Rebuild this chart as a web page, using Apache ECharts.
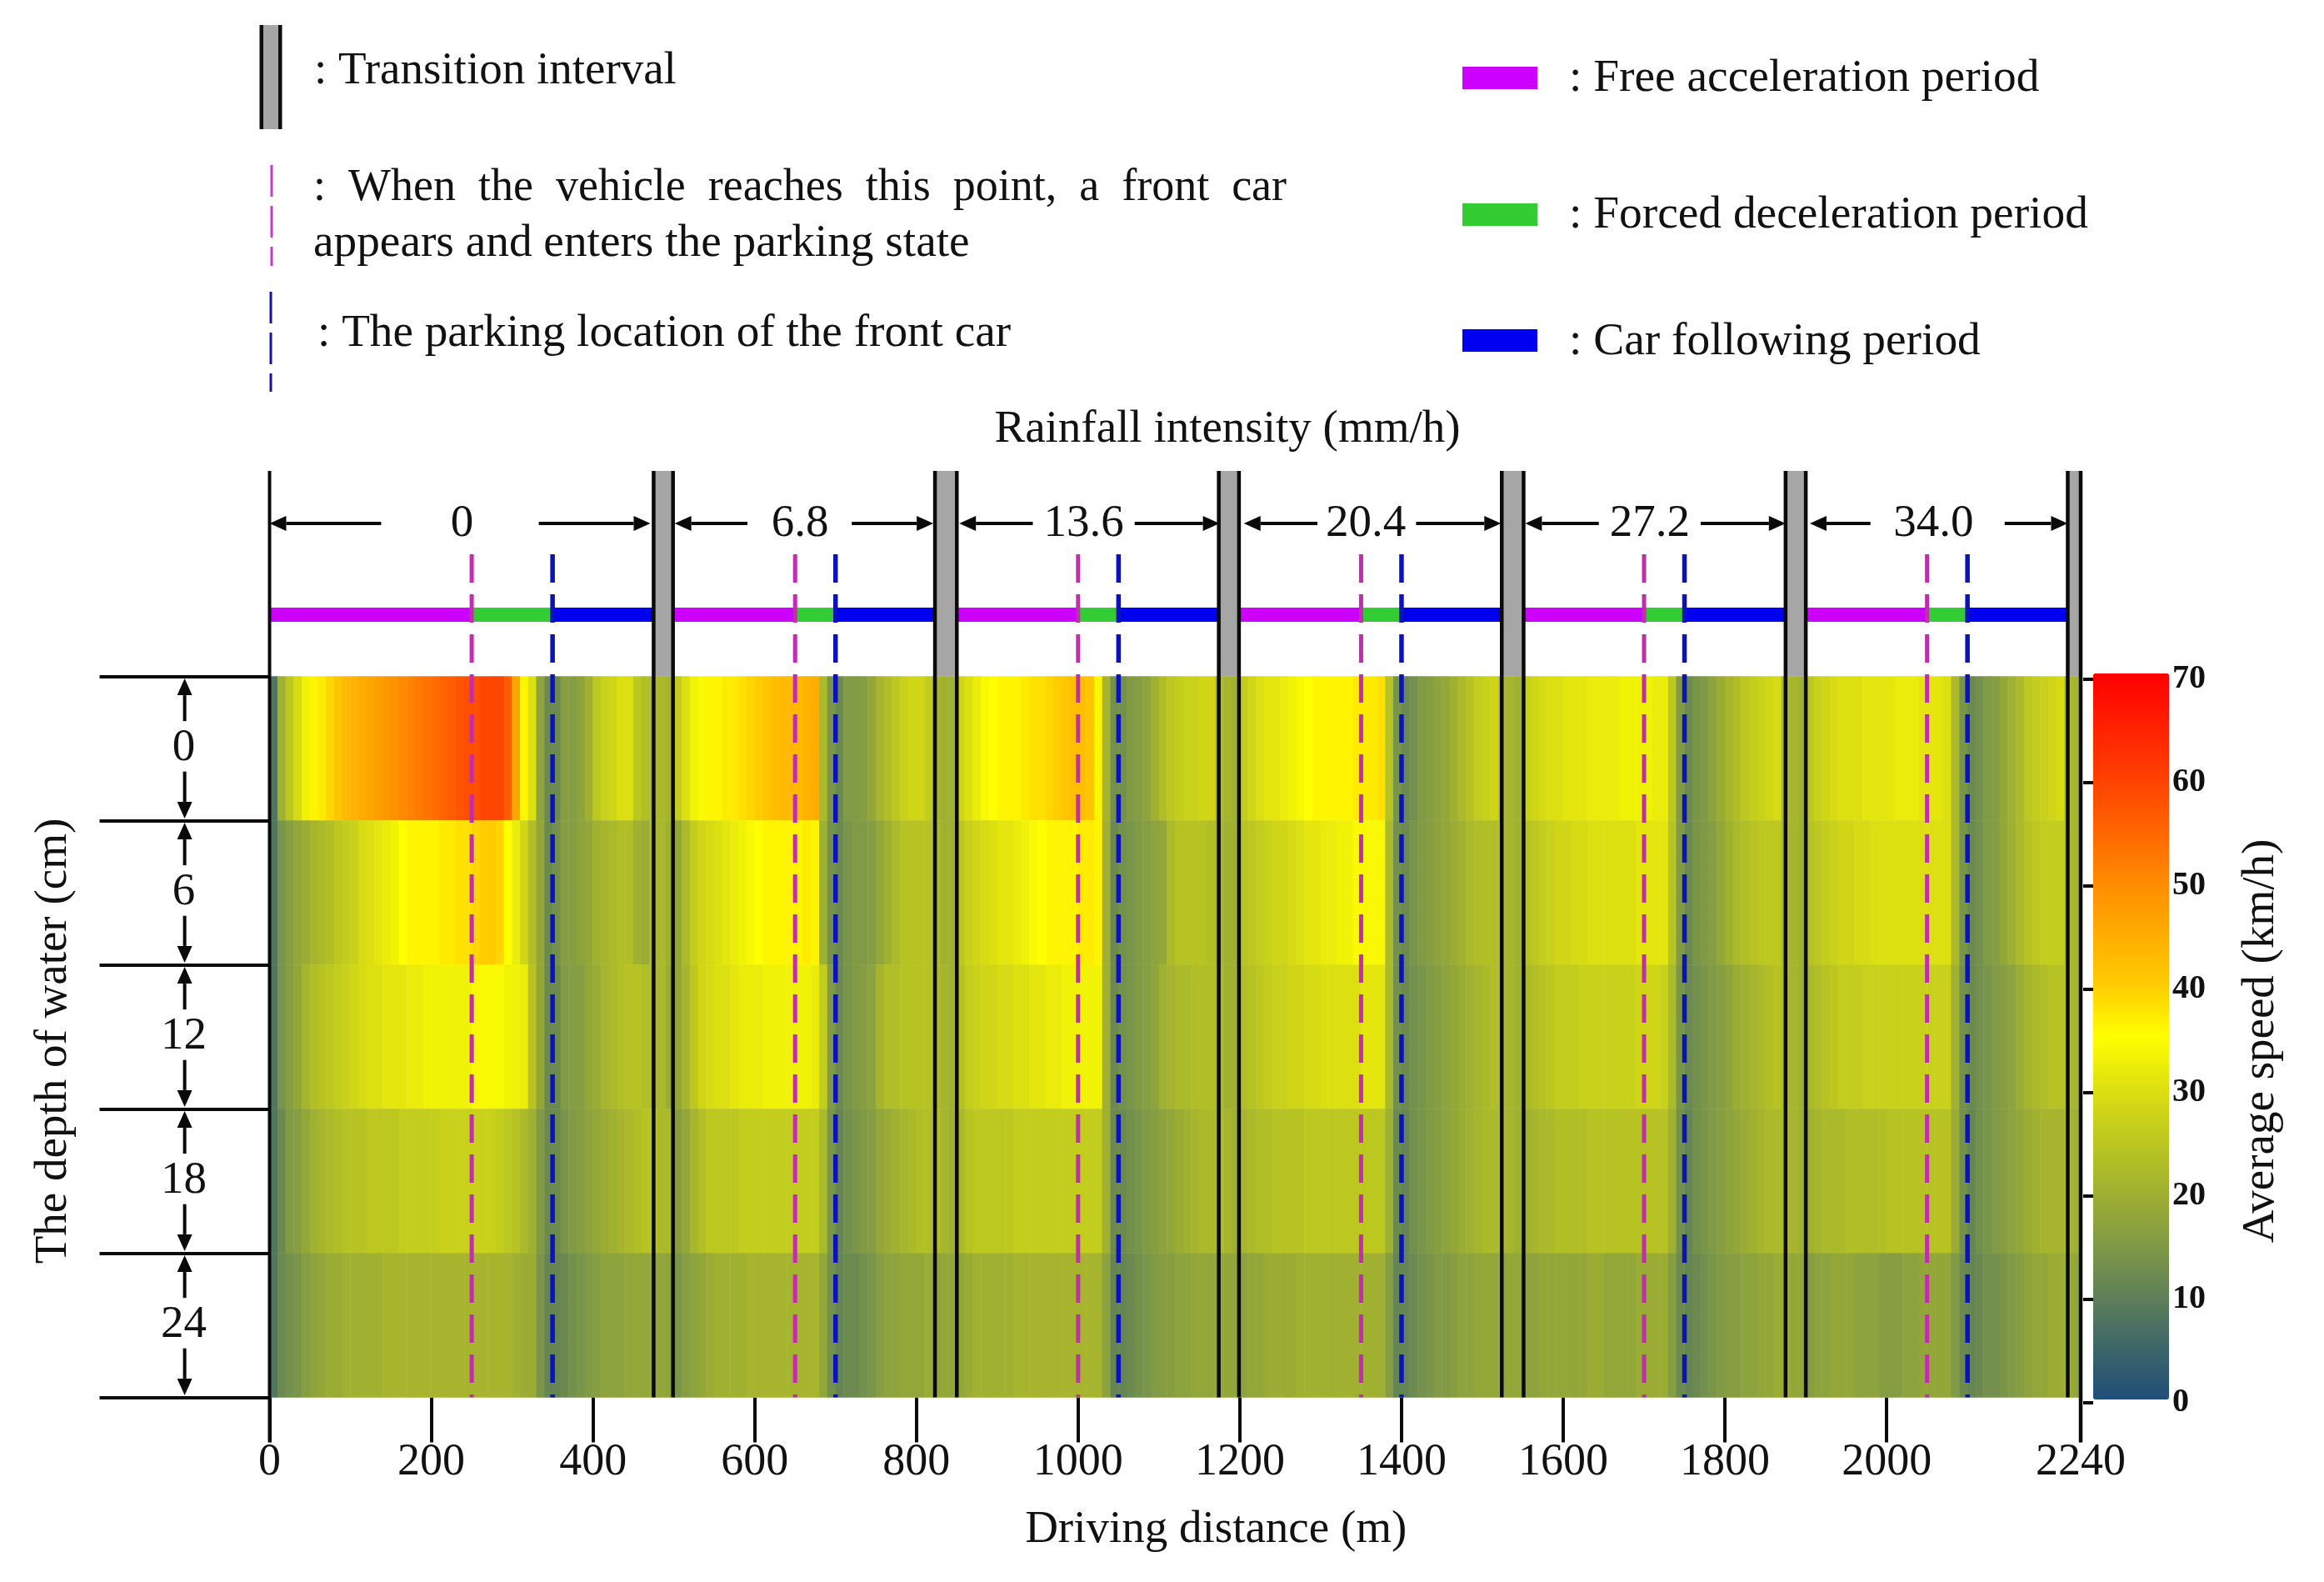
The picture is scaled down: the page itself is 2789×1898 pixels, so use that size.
<!DOCTYPE html>
<html><head><meta charset="utf-8">
<style>html,body{margin:0;padding:0;background:#fff}#c{width:2789px;height:1898px}</style>
<script src="https://cdn.jsdelivr.net/npm/echarts@6/dist/echarts.min.js"></script>
</head><body><div id="c"></div>
<script>
// ---- Data ----
const depthLabels = ['0','6','12','18','24'];
const binSize = 10; // metres per column
const depth0 = [8,20,25,29,33,36,37,39,41,43,44,45,46,47,48,49,50,51,52,53,54,55,56,57,58,58,59,59,59,56,46,36,30,17,12,12,16,16,17,20,25,27,28,30,30,25,23,22,22,21,
26,30,33,34,36,36,37,37,38,39,40,41,42,43,43,43,44,45,22,14,12,15,15,16,18,21,23,25,27,28,28,26,21,20,20,
28,30,32,34,35,36,36,36,37,38,38,39,40,41,42,42,41,36,21,13,13,15,16,17,20,23,25,26,27,27,28,28,22,21,20,
26,28,30,31,31,32,33,34,35,36,36,36,36,36,37,37,37,38,24,14,12,13,15,16,17,18,20,22,24,26,27,28,22,21,20,
27,28,29,30,30,31,31,31,32,32,32,32,33,33,33,33,32,32,25,15,12,14,15,17,19,21,23,25,26,27,28,29,22,21,20,
25,27,28,29,30,30,30,31,31,31,31,32,32,32,31,31,31,30,22,14,12,13,15,16,18,20,22,25,26,27,28,29,22,21];
const depth6 = [8,14,16,18,19,21,22,23,25,26,27,29,30,31,32,33,35,36,36,36,36,37,37,38,38,39,40,40,39,35,32,28,23,18,12,13,16,16,17,18,20,21,22,23,23,20,19,22,22,20,
18,22,26,28,29,30,31,32,33,34,35,36,36,36,36,36,37,36,20,13,12,14,15,15,16,18,20,22,24,24,24,24,22,20,20,
25,27,28,29,30,31,31,32,33,34,35,36,36,36,36,37,37,36,20,12,13,14,15,16,17,18,22,24,24,24,24,23,21,20,20,
24,25,26,27,28,28,29,30,31,31,32,32,33,33,34,34,34,34,22,13,12,14,15,16,17,18,19,20,22,23,23,23,22,21,20,
24,25,26,27,28,28,29,29,30,30,30,30,30,30,31,31,31,31,24,15,12,14,15,16,18,20,22,23,24,25,25,25,22,21,20,
24,25,26,27,28,28,29,29,30,30,30,30,30,30,30,30,30,30,22,14,12,13,15,16,18,20,22,24,25,26,26,26,22,21];
const depth12 = [8,14,16,18,21,23,24,25,26,27,28,29,30,30,31,31,31,32,32,33,33,33,33,33,33,34,34,34,34,33,33,32,24,18,12,12,15,16,16,18,19,21,22,23,24,24,23,22,22,19,
18,21,25,28,29,30,30,31,32,32,32,33,33,33,33,33,33,32,26,15,12,14,15,16,17,21,23,23,24,24,24,24,22,21,20,
24,26,27,28,28,29,29,30,30,31,31,32,32,33,33,33,33,33,20,12,13,14,15,16,17,20,21,22,22,23,23,23,22,20,20,
23,24,25,26,27,27,28,28,29,29,30,30,30,30,30,31,31,31,22,13,12,13,14,15,16,17,18,19,20,21,22,23,22,21,20,
22,23,24,25,26,26,26,27,27,27,27,27,27,27,28,28,28,27,22,14,12,13,14,15,16,17,19,20,21,22,23,24,22,21,20,
22,23,24,25,26,26,26,27,27,27,27,27,27,27,27,27,27,27,20,13,12,13,14,15,16,17,19,21,22,23,24,24,22,21];
const depth18 = [8,12,15,16,18,20,21,22,23,24,24,24,25,25,25,25,26,26,26,26,26,27,27,27,27,27,27,27,26,25,24,22,20,15,12,12,14,15,16,17,18,19,20,21,22,23,24,24,22,22,
16,18,21,23,25,25,25,25,26,26,26,26,26,26,26,26,26,26,22,14,11,13,14,15,16,18,19,20,21,22,23,23,23,21,20,
22,24,25,25,25,25,25,26,26,26,26,26,26,26,26,26,26,26,20,12,12,13,14,15,16,17,18,19,20,21,22,22,22,21,20,
21,22,23,23,24,24,24,24,25,25,25,25,25,25,25,25,25,25,20,12,11,13,14,15,16,17,18,19,20,21,22,22,22,21,20,
20,21,22,22,23,23,23,23,24,24,24,24,24,24,24,24,24,24,20,13,11,13,14,15,16,17,18,19,20,21,22,22,22,21,20,
20,21,22,22,22,23,23,23,23,23,24,24,24,24,24,24,24,24,19,13,11,13,14,15,16,17,18,19,20,21,21,21,21,20];
const depth24 = [8,12,13,14,16,17,18,19,19,20,20,20,20,20,21,21,21,21,21,21,21,21,21,21,21,21,21,21,21,21,20,19,19,14,11,11,12,13,14,15,16,17,17,17,18,18,18,18,18,17,
14,16,17,18,19,20,20,20,20,21,21,21,21,21,21,21,21,21,18,13,11,12,12,13,14,16,17,17,18,18,18,19,18,18,18,
18,19,20,20,20,20,20,21,21,21,21,21,21,21,21,21,21,21,17,11,11,12,13,14,15,16,16,17,17,18,18,18,18,18,18,
17,18,18,19,19,19,19,20,20,20,20,20,20,20,20,20,20,20,16,11,11,12,13,14,15,15,16,17,17,18,18,18,18,18,18,
17,17,18,18,18,18,18,18,19,19,18,18,18,18,19,19,19,19,16,12,11,12,13,14,15,16,16,17,17,18,18,19,19,18,18,
16,17,17,18,18,18,17,17,17,16,16,16,17,17,18,18,18,18,15,12,11,12,13,13,14,15,16,17,18,18,19,19,19,18];
const xTickValues = [0,200,400,600,800,1000,1200,1400,1600,1800,2000,2240];
const speedTicks = [0,10,20,30,40,50,60,70];
const rainfallLabels = ['0','6.8','13.6','20.4','27.2','34.0'];
const rainfallLabelAt = [238,656,1007,1356,1707,2058];
const rainArrowsLeft = [[138,0],[591,501],[944,853],[1296,1205],[1644,1553],[1980,1905]];
const rainArrowsRight = [[333,471],[720,821],[1070,1175],[1418,1523],[1770,1875],[2146,2224]];
const segmentStart = [0,500,850,1200,1550,1900];
const transitionStart = [475,823,1174,1524,1875,2224];
const transitionEnd = [499,850,1199,1551,1900,2240];
const frontCarAppears = [250,650,1000,1350,1700,2050];
const frontCarParks = [350,700,1050,1400,1750,2100];

// ---- Styles ----
const SERIF = '"Liberation Serif", serif';
const BLACK = '#0a0a0a';
const rows = [depth0,depth6,depth12,depth18,depth24];
const categories = depth0.map((_, i) => String(i * binSize));
const heat = [];
rows.forEach((r, y) => r.forEach((v, x) => heat.push([x, y, v])));
const ramp = ['#1f4e79','#3d6668','#5f8058','#809a45','#a0b030','#bcc820','#dde010','#ffff00','#ffcc00','#ffac00','#ff8a00','#ff6400','#ff3f00','#ff2000','#ff0000'];

// band positions, in row units from the top of the heat map (1 row = 173 px)
const BAND = { top:-1.425, dashTop:-0.847, rainY:-1.06, barTop:-0.477, barBottom:-0.379, heatTop:0, bottom:5, xTickEnd:5.31 };

function rectSeries(data, fill, z){
  return {type:'custom', xAxisIndex:1, yAxisIndex:1, z, silent:true, clip:false, data,
    renderItem(p, api){
      const a = api.coord([api.value(0), api.value(2)]), b = api.coord([api.value(1), api.value(3)]);
      return {type:'rect', shape:{x:a[0], y:a[1], width:b[0]-a[0], height:b[1]-a[1]}, style:{fill}};
    }};
}
function lineSeries(data, stroke, width, dash, z){
  return {type:'custom', xAxisIndex:1, yAxisIndex:1, z, silent:true, clip:false, data,
    renderItem(p, api){
      const a = api.coord([api.value(0), api.value(1)]), b = api.coord([api.value(0), api.value(2)]);
      return {type:'line', shape:{x1:a[0], y1:a[1], x2:b[0], y2:b[1]}, style:{stroke, lineWidth:width, lineDash:dash||null}};
    }};
}
function arrowSeries(data, z){
  return {type:'custom', xAxisIndex:1, yAxisIndex:1, z, silent:true, clip:false, data,
    renderItem(p, api){
      const a = api.coord([api.value(0), api.value(1)]), b = api.coord([api.value(2), api.value(3)]);
      const L = Math.hypot(b[0]-a[0], b[1]-a[1]) || 1, ux=(b[0]-a[0])/L, uy=(b[1]-a[1])/L, hl=20, hw=9;
      const bx=b[0]-ux*hl, by=b[1]-uy*hl;
      return {type:'group', children:[
        {type:'line', shape:{x1:a[0], y1:a[1], x2:bx, y2:by}, style:{stroke:BLACK, lineWidth:4}},
        {type:'polygon', shape:{points:[[b[0],b[1]],[bx-uy*hw,by+ux*hw],[bx+uy*hw,by-ux*hw]]}, style:{fill:BLACK}}
      ]};
    }};
}

const depthArrows = [];
depthLabels.forEach((_, r) => { depthArrows.push([-105, r+0.31, -105, r+0.015]); depthArrows.push([-105, r+0.66, -105, r+0.985]); });
const rainArrows = [];
rainArrowsLeft.concat(rainArrowsRight).forEach(s => rainArrows.push([s[0], BAND.rainY, s[1], BAND.rainY]));

const txt = (text, x, y, size) => ({type:'text', x, y, z:10, silent:true,
  style:{text, x:0, y:0, font:`${size||55}px ${SERIF}`, fill:'#111', textVerticalAlign:'middle'}});
const box = (x, y, w, h, fill) => ({type:'rect', z:10, silent:true, shape:{x, y, width:w, height:h}, style:{fill}});
const vdash = (x, y1, y2, stroke) => ({type:'line', z:10, silent:true, shape:{x1:x, y1, x2:x, y2}, style:{stroke, lineWidth:3, lineDash:[38,11]}});

const chart = echarts.init(document.getElementById('c'), null, {renderer:'canvas'});
chart.setOption({
  backgroundColor:'#fff', animation:false,
  textStyle:{fontFamily:SERIF, color:'#111'},
  title:{text:'Rainfall intensity (mm/h)', left:1473, top:488, textAlign:'center', padding:0,
    textStyle:{fontFamily:SERIF, fontWeight:'normal', fontSize:55, color:'#111'}},
  grid:[
    {left:323.5, top:811.5, width:2173.5, height:865},
    {left:2512, top:815, width:80, height:868}
  ],
  xAxis:[
    {type:'category', gridIndex:0, data:categories, show:false},
    {type:'value', gridIndex:0, min:0, max:2240, position:'bottom', splitLine:{show:false}, axisLine:{show:false},
      axisTick:{show:true, length:54, lineStyle:{color:BLACK, width:4}, customValues:xTickValues},
      axisLabel:{margin:51, fontSize:54, color:'#111', fontFamily:SERIF, customValues:xTickValues, formatter:v=>String(v), hideOverlap:false, showMinLabel:true, showMaxLabel:true},
      name:'Driving distance (m)', nameLocation:'middle', nameGap:132, nameMoveOverlap:false,
      nameTextStyle:{fontSize:55, color:'#111', fontFamily:SERIF, padding:[0,0,0,98]}},
    {type:'value', gridIndex:1, min:0, max:1, show:false}
  ],
  yAxis:[
    {type:'category', gridIndex:0, data:depthLabels, inverse:true, position:'left',
      axisLine:{show:false}, axisTick:{show:true, length:204, lineStyle:{color:BLACK, width:4}},
      axisLabel:{margin:103, fontSize:55, color:'#111', fontFamily:SERIF, align:'center'},
      name:'The depth of water (cm)', nameLocation:'middle', nameGap:231, nameRotate:90, nameMoveOverlap:false,
      nameTextStyle:{fontSize:55, color:'#111', fontFamily:SERIF, padding:[0,10,0,0]}},
    {type:'value', gridIndex:0, min:0, max:5, inverse:true, show:false},
    {type:'value', gridIndex:1, position:'right', min:0, max:70, interval:10, z:10,
      splitLine:{show:false}, axisLine:{show:false},
      axisTick:{show:true, inside:true, length:12, lineStyle:{color:BLACK, width:4}, customValues:speedTicks},
      axisLabel:{margin:15, fontSize:40, fontWeight:'bold', color:'#111', fontFamily:SERIF, padding:[0,0,9,0]},
      name:'Average speed (km/h)', nameLocation:'middle', nameGap:94, nameRotate:90, nameMoveOverlap:false,
      nameTextStyle:{fontSize:55, color:'#111', fontFamily:SERIF}}
  ],
  visualMap:{type:'continuous', seriesIndex:0, min:0, max:70, dimension:2, calculable:false, realtime:false, hoverLink:false,
    left:2512, top:808, padding:0, itemWidth:91, itemHeight:871, text:null, showLabel:false, z:4,
    inRange:{color:ramp}},
  series:[
    {type:'heatmap', xAxisIndex:0, yAxisIndex:0, data:heat, silent:true, progressive:0, itemStyle:{borderWidth:0}},
    rectSeries(transitionStart.map((x,i)=>[x, transitionEnd[i], BAND.top, BAND.heatTop]), '#a6a6a6', 3),
    lineSeries([[0,BAND.top,BAND.xTickEnd]], BLACK, 4, null, 6),
    lineSeries(transitionStart.map(x=>[x,BAND.top,BAND.bottom]), BLACK, 4.5, null, 6),
    lineSeries(transitionEnd.map((x,i)=>[x,BAND.top, i===5?BAND.xTickEnd:BAND.bottom]), BLACK, 4.5, null, 6),
    rectSeries(segmentStart.map((x,i)=>[x, frontCarAppears[i], BAND.barTop, BAND.barBottom]), '#cc00ff', 5),
    rectSeries(segmentStart.map((x,i)=>[frontCarAppears[i], frontCarParks[i], BAND.barTop, BAND.barBottom]), '#33cc33', 5),
    rectSeries(segmentStart.map((x,i)=>[frontCarParks[i], transitionStart[i], BAND.barTop, BAND.barBottom]), '#0000f0', 5),
    lineSeries(frontCarAppears.map(x=>[x,BAND.dashTop,BAND.bottom]), '#c22cae', 5, [34,14], 7),
    lineSeries(frontCarParks.map(x=>[x,BAND.dashTop,BAND.bottom]), '#0a12b8', 5.5, [34,14], 7),
    arrowSeries(depthArrows, 8),
    arrowSeries(rainArrows, 8),
    {type:'custom', xAxisIndex:1, yAxisIndex:1, z:8, silent:true, clip:false, data:rainfallLabelAt.map(x=>[x, BAND.rainY]),
      renderItem(p, api){
        const a = api.coord([api.value(0), api.value(1)]);
        return {type:'text', x:a[0], y:a[1], style:{text:rainfallLabels[p.dataIndex], font:`55px ${SERIF}`, fill:'#111', textAlign:'center', textVerticalAlign:'middle'}};
      }}
  ],
  graphic:[
    box(311.5,30,27,125,'#0e0e0e'), box(316,30,18,125,'#a6a6a6'),
    txt(': Transition interval', 377, 86),
    vdash(326,198,319,'#cc33dd'),
    txt(':  When  the  vehicle  reaches  this  point,  a  front  car', 376, 226, 54),
    txt('appears and enters the parking state', 376, 292, 55.3),
    vdash(325,350,470,'#1414a0'),
    txt(': The parking location of the front car', 381, 401, 55.2),
    box(1755,80,90,27,'#cc00ff'), txt(': Free acceleration period', 1883, 94, 55.4),
    box(1755,244,90,27,'#33cc33'), txt(': Forced deceleration period', 1883, 258, 55.4),
    box(1755,395,90,27,'#0000f0'), txt(': Car following period', 1883, 410, 55.4)
  ]
});
</script></body></html>
